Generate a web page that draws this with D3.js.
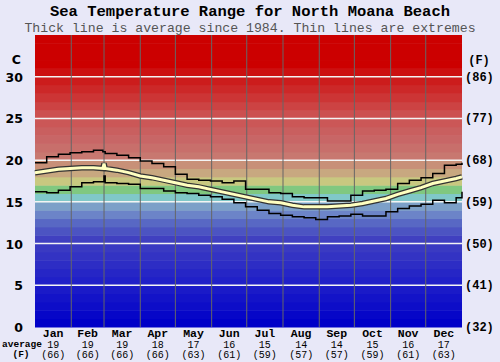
<!DOCTYPE html>
<html>
<head>
<meta charset="utf-8">
<script src="https://cdn.jsdelivr.net/npm/d3@7"></script>
<style>
  body { margin: 0; background: #e8e8f8; }
  text { font-family: "Liberation Mono", "DejaVu Sans Mono", monospace; }
</style>
</head>
<body>
<div id="chartArea"></div>
<script>
// month names and monthly averages
var months = ['Jan','Feb','Mar','Apr','May','Jun','Jul','Aug','Sep','Oct','Nov','Dec'];
var monthDays = [31,28,31,30,31,30,31,31,30,31,30,31];
var avgC = [19,19,19,18,17,16,15,14,14,15,16,17];
var avgF = [66,66,66,66,63,61,59,57,57,59,61,63];

// day of year for each sample
var days = [0,10,20,30,40,50,58,59,60,70,80,90,100,110,120,130,140,150,160,170,180,
    190,200,210,220,230,240,250,260,270,280,290,300,310,320,330,340,350,360,365];

var maxT = [19.7,20.4,20.7,20.9,21.0,21.2,21.0,21.0,20.8,20.6,20.3,19.9,19.6,19.2,18.3,17.7,17.6,17.5,17.3,17.5,16.5,
    16.5,16.1,16.0,15.6,15.5,15.5,15.1,15.1,15.8,16.3,16.4,16.5,17.2,17.6,17.9,18.4,19.4,19.5,19.7];
var avgT = [18.5,18.7,18.9,19.0,19.1,19.1,19.0,19.6,19.0,18.8,18.5,18.1,17.9,17.6,17.3,17.0,16.8,16.5,16.2,15.9,15.6,
    15.3,15.0,14.9,14.6,14.4,14.4,14.4,14.5,14.6,14.8,15.1,15.4,15.9,16.3,16.7,17.2,17.5,17.8,18.0];
var minT = [16.2,16.1,16.4,16.8,17.3,17.4,17.4,18.1,17.3,17.2,17.1,16.6,16.6,16.3,16.1,16.0,15.8,15.6,15.3,14.9,14.4,
    14.0,13.6,13.4,13.2,13.1,12.9,13.2,13.3,13.5,13.3,13.3,13.8,14.2,14.5,14.7,15.2,14.9,15.5,16.2];

var cTicks = [0,5,10,15,20,25,30];
var fTicks = ['(32)','(41)','(50)','(59)','(68)','(77)','(86)'];

var W = 500, H = 362;
var margin = {top: 35, right: 38, bottom: 35, left: 35};
var w = W - margin.left - margin.right,
    h = H - margin.top - margin.bottom;

var svg = d3.select('#chartArea').append('svg')
    .attr('width', W)
    .attr('height', H);

svg.append('rect').attr('width', W).attr('height', H).attr('fill', '#e8e8f8');

var g = svg.append('g')
    .attr('transform', 'translate(' + margin.left + ',' + margin.top + ')');

var xScale = d3.scaleLinear().domain([0, 365]).range([0, w]);
var yScale = d3.scaleLinear().domain([0, 35]).range([h, 0]);

var colorScale = d3.scaleLinear()
    .domain([0,5,10,12,13,14,15,16,17,18,19,20,22,25,28,30,31])
    .range(['#0000c8','#2020c8','#4040c0','#5868c4','#6c84c8','#7ca0c8','#80c8c8','#80c880',
        '#c8c880','#c8a880','#c89078','#c87870','#c86666','#cc5050','#cc2828','#cc1010','#cc0000'])
    .clamp(true);

// one band per degree
g.selectAll('rect.band')
    .data(d3.range(0, 35))
    .enter()
    .append('rect')
    .attr('class', 'band')
    .attr('x', 0)
    .attr('width', w)
    .attr('y', function (d) { return yScale(d + 1); })
    .attr('height', function (d) { return yScale(d) - yScale(d + 1) + 0.5; })
    .attr('fill', function (d) { return colorScale(d); });

// white lines every 5 degrees
g.selectAll('line.hgrid')
    .data(cTicks.slice(1))
    .enter()
    .append('line')
    .attr('x1', 0).attr('x2', w)
    .attr('y1', function (d) { return yScale(d); })
    .attr('y2', function (d) { return yScale(d); })
    .attr('stroke', '#f4f4f4')
    .attr('stroke-width', 1.5);

// month boundaries
var monthStart = [0];
monthDays.forEach(function (d, i) { monthStart.push(monthStart[i] + d); });

g.selectAll('line.vgrid')
    .data(monthStart.slice(1, 12))
    .enter()
    .append('line')
    .attr('x1', function (d) { return xScale(d); })
    .attr('x2', function (d) { return xScale(d); })
    .attr('y1', 0).attr('y2', h)
    .attr('stroke', '#666')
    .attr('stroke-width', 1);

var stepLine = d3.line()
    .x(function (d, i) { return xScale(days[i]); })
    .y(function (d) { return yScale(d); })
    .curve(d3.curveStepAfter);

var avgLine = d3.line()
    .x(function (d, i) { return xScale(days[i]); })
    .y(function (d) { return yScale(d); });

g.append('path').attr('d', stepLine(maxT))
    .attr('fill', 'none').attr('stroke', '#000').attr('stroke-width', 1.5);
g.append('path').attr('d', stepLine(minT))
    .attr('fill', 'none').attr('stroke', '#000').attr('stroke-width', 1.5);
g.append('path').attr('d', avgLine(avgT))
    .attr('fill', 'none').attr('stroke', '#333').attr('stroke-width', 5.5);
g.append('path').attr('d', avgLine(avgT))
    .attr('fill', 'none').attr('stroke', '#ffffc0').attr('stroke-width', 3);

// titles
svg.append('text').attr('x', W / 2).attr('y', 16)
    .attr('text-anchor', 'middle').attr('font-size', 15.5).attr('font-weight', 'bold')
    .text('Sea Temperature Range for North Moana Beach');
svg.append('text').attr('x', W / 2).attr('y', 32)
    .attr('text-anchor', 'middle').attr('font-size', 13.2).attr('fill', '#555')
    .text('Thick line is average since 1984. Thin lines are extremes');

// left axis
svg.append('text').attr('x', 21).attr('y', 64).attr('text-anchor', 'end')
    .attr('font-size', 12.5).attr('font-weight', 'bold')
    .style('font-family', 'DejaVu Sans, sans-serif').text('C');
svg.selectAll('text.cl')
    .data(cTicks)
    .enter()
    .append('text')
    .attr('x', 23)
    .attr('y', function (d) { return margin.top + yScale(d) + 5; })
    .attr('text-anchor', 'end')
    .attr('font-size', 12.5)
    .attr('font-weight', 'bold')
    .style('font-family', 'DejaVu Sans, sans-serif')
    .text(function (d) { return d; });

// right axis
svg.append('text').attr('x', 479).attr('y', 64).attr('text-anchor', 'middle')
    .attr('font-size', 12).attr('font-weight', 'bold').text('(F)');
svg.selectAll('text.fl')
    .data(fTicks)
    .enter()
    .append('text')
    .attr('x', 465)
    .attr('y', function (d, i) { return margin.top + yScale(cTicks[i]) + 4; })
    .attr('font-size', 12)
    .attr('font-weight', 'bold')
    .text(function (d) { return d; });

// bottom labels
var mid = months.map(function (m, i) { return xScale(monthStart[i] + monthDays[i] / 2) + margin.left; });

svg.selectAll('text.mn')
    .data(months)
    .enter()
    .append('text')
    .attr('x', function (d, i) { return mid[i]; })
    .attr('y', 337)
    .attr('text-anchor', 'middle')
    .attr('font-size', 11.5)
    .attr('font-weight', 'bold')
    .text(function (d) { return d; });

svg.selectAll('text.ac')
    .data(avgC)
    .enter()
    .append('text')
    .attr('x', function (d, i) { return mid[i]; })
    .attr('y', 347.5)
    .attr('text-anchor', 'middle')
    .attr('font-size', 10)
    .text(function (d) { return d; });

svg.selectAll('text.af')
    .data(avgF)
    .enter()
    .append('text')
    .attr('x', function (d, i) { return mid[i]; })
    .attr('y', 357.5)
    .attr('text-anchor', 'middle')
    .attr('font-size', 10)
    .text(function (d) { return '(' + d + ')'; });

svg.append('text').attr('x', 22).attr('y', 347).attr('text-anchor', 'middle')
    .attr('font-size', 9.5).attr('font-weight', 'bold').text('average');
svg.append('text').attr('x', 21).attr('y', 357).attr('text-anchor', 'middle')
    .attr('font-size', 9.5).attr('font-weight', 'bold').text('(F)');
</script>
</body>
</html>
